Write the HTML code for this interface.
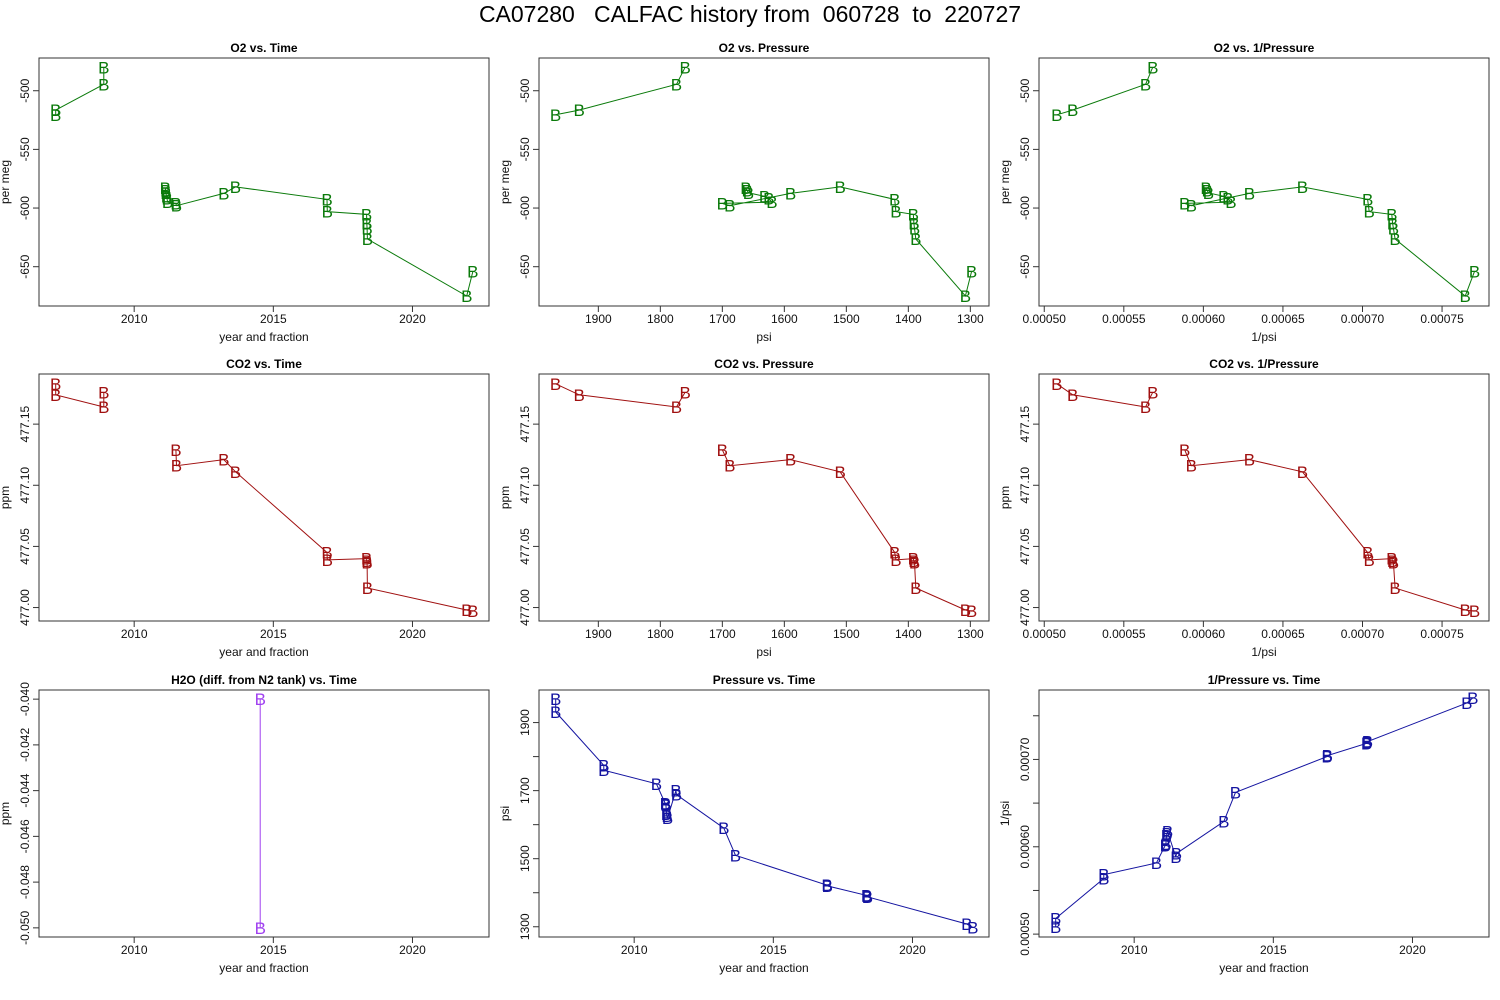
<!DOCTYPE html>
<html><head><meta charset="utf-8">
<style>
body{margin:0;background:#fff;}
svg{display:block;font-family:"Liberation Sans",Arial,sans-serif;}
</style></head>
<body>
<svg id="chart" width="1500" height="1000" viewBox="0 0 1500 1000">
<rect width="1500" height="1000" fill="#fff"/>
<text x="750" y="22" font-size="23" text-anchor="middle" style="white-space:pre" xml:space="preserve">CA07280   CALFAC history from  060728  to  220727</text>
</svg>
<script>
// ---- data ----
const times = [2007.18,2007.18,2008.91,2008.91,2010.80,2011.12,2011.13,2011.14,2011.16,2011.18,2011.20,2011.50,2011.52,2013.22,2013.64,2016.93,2016.94,2018.35,2018.36,2018.37,2018.38,2021.95,2022.17];
const pressures = [1969,1931,1774,1760,1720,1662,1660,1658,1632,1625,1620,1700,1688,1590,1510,1422,1420,1392,1391,1390,1388,1308,1298];
const o2Values = [-520.5,-516.5,-494.5,-480,null,-583,-585,-587,-590,-592,-595,-596,-598,-587.5,-582,-592.6,-603,-605.4,-613,-617.3,-626.4,-675,-654];
const co2Values = [477.183,477.174,477.164,477.176,null,null,null,null,null,null,null,477.129,477.116,477.121,477.111,477.045,477.039,477.040,477.038,477.037,477.016,476.998,476.997];
const h2oTimes = [2014.53,2014.53];
const h2oValues = [-0.040,-0.050];
const timeTicks = [2010,2015,2020];
const o2Ticks = [-500,-550,-600,-650];
const co2Ticks = [477.00,477.05,477.10,477.15];
const psiTicks = [1300,1400,1500,1600,1700,1800,1900];
const psiLabelTicks = [1300,1500,1700,1900];
const invTicks = [0.00050,0.00055,0.00060,0.00065,0.00070,0.00075];
const invLabelTicksY = [0.00050,0.00060,0.00070];
const h2oTicks = [-0.040,-0.042,-0.044,-0.046,-0.048,-0.050];

const invP = pressures.map(p => 1/p);

const NS = "http://www.w3.org/2000/svg";
const svg = document.getElementById('chart');
function mk(tag, attrs, parent){const e=document.createElementNS(NS,tag);for(const k in attrs)e.setAttribute(k,attrs[k]);(parent||svg).appendChild(e);return e;}

const cols = [[39,489],[539,989],[1039,1489]];
const rows = [[58,306],[374,621],[690,937]];
const GREEN="#0a7a0a", RED="#a01010", BLUE="#1414a0", PURPLE="#a040f0";
const tDom=[2006.58,2022.75], o2Dom=[-683.5,-472.1], co2Dom=[476.989,477.191], pDom=[1269.9,1995.7], invDom=[0.0004967,0.0007795], h2oDom=[-0.0504,-0.0396];
const fmtT=v=>String(v), fmtO=v=>String(v), fmtC=v=>v.toFixed(2), fmtP=v=>String(v), fmtI=v=>v.toFixed(5), fmtH=v=>v.toFixed(3);

const panels = [
 {name:'o2-vs-time',title:'O2 vs. Time',c:0,r:0,xs:times,ys:o2Values,xd:tDom,yd:o2Dom,xt:timeTicks,xl:timeTicks,xf:fmtT,yt:o2Ticks,yl:o2Ticks,yf:fmtO,xlab:'year and fraction',ylab:'per meg',col:GREEN},
 {name:'o2-vs-pressure',title:'O2 vs. Pressure',c:1,r:0,xs:pressures,ys:o2Values,xd:[pDom[1],pDom[0]],xt:psiTicks,xl:psiTicks,xf:fmtP,yd:o2Dom,yt:o2Ticks,yl:o2Ticks,yf:fmtO,xlab:'psi',ylab:'per meg',col:GREEN},
 {name:'o2-vs-inv-pressure',title:'O2 vs. 1/Pressure',c:2,r:0,xs:invP,ys:o2Values,xd:invDom,xt:invTicks,xl:invTicks,xf:fmtI,yd:o2Dom,yt:o2Ticks,yl:o2Ticks,yf:fmtO,xlab:'1/psi',ylab:'per meg',col:GREEN},
 {name:'co2-vs-time',title:'CO2 vs. Time',c:0,r:1,xs:times,ys:co2Values,xd:tDom,xt:timeTicks,xl:timeTicks,xf:fmtT,yd:co2Dom,yt:co2Ticks,yl:co2Ticks,yf:fmtC,xlab:'year and fraction',ylab:'ppm',col:RED},
 {name:'co2-vs-pressure',title:'CO2 vs. Pressure',c:1,r:1,xs:pressures,ys:co2Values,xd:[pDom[1],pDom[0]],xt:psiTicks,xl:psiTicks,xf:fmtP,yd:co2Dom,yt:co2Ticks,yl:co2Ticks,yf:fmtC,xlab:'psi',ylab:'ppm',col:RED},
 {name:'co2-vs-inv-pressure',title:'CO2 vs. 1/Pressure',c:2,r:1,xs:invP,ys:co2Values,xd:invDom,xt:invTicks,xl:invTicks,xf:fmtI,yd:co2Dom,yt:co2Ticks,yl:co2Ticks,yf:fmtC,xlab:'1/psi',ylab:'ppm',col:RED},
 {name:'h2o-vs-time',title:'H2O (diff. from N2 tank) vs. Time',c:0,r:2,xs:h2oTimes,ys:h2oValues,xd:tDom,xt:timeTicks,xl:timeTicks,xf:fmtT,yd:h2oDom,yt:h2oTicks,yl:h2oTicks,yf:fmtH,xlab:'year and fraction',ylab:'ppm',col:PURPLE},
 {name:'pressure-vs-time',title:'Pressure vs. Time',c:1,r:2,xs:times,ys:pressures,xd:tDom,xt:timeTicks,xl:timeTicks,xf:fmtT,yd:pDom,yt:psiTicks,yl:psiLabelTicks,yf:fmtP,xlab:'year and fraction',ylab:'psi',col:BLUE},
 {name:'inv-pressure-vs-time',title:'1/Pressure vs. Time',c:2,r:2,xs:times,ys:invP,xd:tDom,xt:timeTicks,xl:timeTicks,xf:fmtT,yd:invDom,yt:invTicks,yl:invLabelTicksY,yf:fmtI,xlab:'year and fraction',ylab:'1/psi',col:BLUE}
];

panels.forEach(P=>{
  const [x0,x1]=cols[P.c], [y0,y1]=rows[P.r];
  const g=mk('g',{});
  
  
  const sx=v=>x0+(v-P.xd[0])/(P.xd[1]-P.xd[0])*(x1-x0);
  const sy=v=>y1-(v-P.yd[0])/(P.yd[1]-P.yd[0])*(y1-y0);
  const t=mk('text',{x:(x0+x1)/2,y:y0-6,'font-size':12,'font-weight':'bold','text-anchor':'middle'},g);
  t.textContent=P.title;
  
  
  const box=mk('rect',{x:x0,y:y0,width:x1-x0,height:y1-y0,fill:'none',stroke:'#333','stroke-width':1},g);
  
  
  const xa=mk('g',{},g);
  
  
  const xp=P.xt.map(sx);
  mk('line',{x1:Math.min(...xp),x2:Math.max(...xp),y1:y1,y2:y1,stroke:'#333'},xa);
  P.xt.forEach(v=>{mk('line',{x1:sx(v),x2:sx(v),y1:y1,y2:y1+6,stroke:'#333'},xa);});
  P.xl.forEach(v=>{const tx=mk('text',{x:sx(v),y:y1+17,'font-size':12,'text-anchor':'middle',fill:'#111'},xa);tx.textContent=P.xf(v);
    
    });
  const xl=mk('text',{x:(x0+x1)/2,y:y1+35,'font-size':12,'text-anchor':'middle',fill:'#111'},xa);
  xl.textContent=P.xlab;
  
  
  const ya=mk('g',{},g);
  
  
  const yp=P.yt.map(sy);
  mk('line',{x1:x0,x2:x0,y1:Math.min(...yp),y2:Math.max(...yp),stroke:'#333'},ya);
  P.yt.forEach(v=>{mk('line',{x1:x0-6,x2:x0,y1:sy(v),y2:sy(v),stroke:'#333'},ya);});
  P.yl.forEach(v=>{const tx=mk('text',{x:0,y:0,'font-size':12,'text-anchor':'middle',fill:'#111',transform:`translate(${x0-10},${sy(v)}) rotate(-90)`},ya);tx.textContent=P.yf(v);
    
    });
  const yl=mk('text',{x:0,y:0,'font-size':12,'text-anchor':'middle',fill:'#111',transform:`translate(${x0-30},${(y0+y1)/2}) rotate(-90)`},ya);
  yl.textContent=P.ylab;
  
  
  const sg=mk('g',{},g);
  
  
  let seg=[];
  const flush=()=>{if(seg.length>1){const pl=mk('polyline',{points:seg.join(' '),fill:'none',stroke:P.col,'stroke-width':1},sg);
      
      }seg=[];};
  for(let i=0;i<P.xs.length;i++){const yv=P.ys[i];if(yv===null||yv===undefined){flush();continue;}seg.push(sx(P.xs[i]).toFixed(1)+','+sy(yv).toFixed(1));}
  flush();
  for(let i=0;i<P.xs.length;i++){const yv=P.ys[i];if(yv===null||yv===undefined)continue;
    const b=mk('text',{x:sx(P.xs[i]),y:sy(yv)+6,'font-size':17,'text-anchor':'middle',fill:P.col},sg);
    b.textContent='B';
    
    }
});
</script>
</body></html>
